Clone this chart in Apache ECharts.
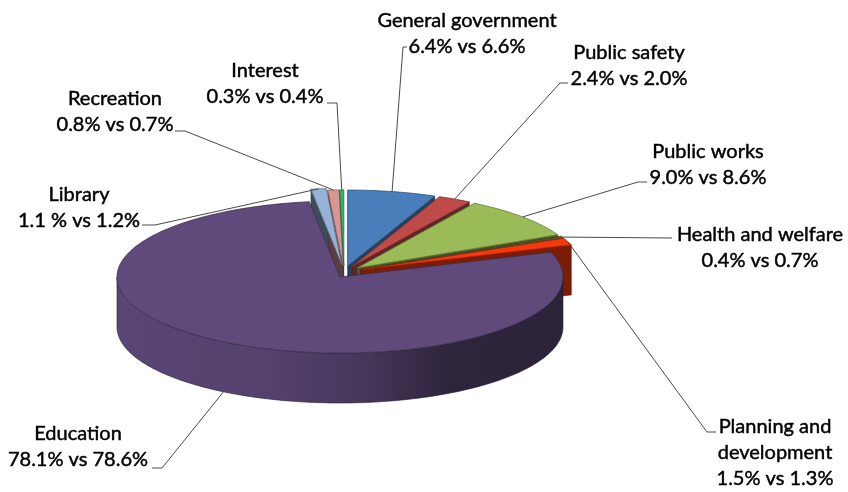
<!DOCTYPE html>
<html><head><meta charset="utf-8">
<script src="https://cdn.jsdelivr.net/npm/echarts@6/dist/echarts.min.js"></script>
<style>html,body{margin:0;padding:0;background:#fff}#c{width:848px;height:492px}</style>
</head><body><div id="c"></div>
<script>
// ---- data ----
const categories = ['General government','Public safety','Public works','Health and welfare','Planning and development','Education','Library','Recreation','Interest'];
const labelNames = ['General government','Public safety','Public works','Health and welfare','Planning and\ndevelopment','Education','Library','Recreation','Interest'];
const shareA = [6.4, 2.4, 9.0, 0.4, 1.5, 78.1, 1.1, 0.8, 0.3];
const shareB = [6.6, 2.0, 8.6, 0.7, 1.3, 78.6, 1.2, 0.7, 0.4];
const shareAText = ['6.4%','2.4%','9.0%','0.4%','1.5%','78.1%','1.1 %','0.8%','0.3%'];

// ---- style ----
const colors = ['#4A7EBB','#BE4B48','#9BBB59','#4F6228','#F5380E','#5F4A7B','#95B3D7','#D99694','#34AE6E'];
const explode = [0.08,0.08,0.08,0.08,0.08,0,0.1,0.08,0.08];
const CX = 340, CY = 277, RX = 223, RY = 76, DEPTH = 50, SHIFT = [4,-5];
// label layout: [blockCenterX, blockCenterY, elbowX, elbowY, endX]
const labelLayout = [
  [467, 34, 403, 47, 407],
  [629, 66, 560, 83, 568],
  [708, 165, 638, 182, 647],
  [760, 248, 672, 238, 672],
  [775, 453, 707, 432, 716],
  [78, 447, 162, 468, 152],
  [79, 208, 155, 225, 142],
  [115, 112, 185, 131, 175],
  [265, 84, 337, 103, 327]
];

function shade(hex, f){
  const n = parseInt(hex.slice(1),16);
  const r = Math.round(((n>>16)&255)*f), g = Math.round(((n>>8)&255)*f), b = Math.round((n&255)*f);
  return 'rgb('+r+','+g+','+b+')';
}

const total = shareA.reduce((a,b)=>a+b,0);
const startA = [], endA = [];
let acc = 0;
shareA.forEach(v=>{ startA.push(acc/total*2*Math.PI); acc += v; endA.push(acc/total*2*Math.PI); });

function renderItem(params, api){
  const i = params.dataIndex;
  const s = startA[i], e = endA[i], m = (s+e)/2;
  const ex = explode[i];
  const off = ex>0 ? [ex*RX*Math.sin(m)+SHIFT[0], -ex*RY*Math.cos(m)+SHIFT[1]] : [0,0];
  const P = (t,r,h)=>[CX+off[0]+RX*r*Math.sin(t), CY+off[1]-RY*r*Math.cos(t)+h];
  const arc = (a,b,h)=>{ const n=Math.max(2,Math.ceil((b-a)/(Math.PI/180))); const pts=[]; for(let k=0;k<=n;k++) pts.push(P(a+(b-a)*k/n,1,h)); return pts; };
  const base = colors[i];
  const children = [];
  // outer wall (front half only)
  const a = Math.max(s, Math.PI/2), b = Math.min(e, 3*Math.PI/2);
  if (a < b){
    const pts = arc(a,b,0).concat(arc(a,b,DEPTH).reverse());
    const fill = new echarts.graphic.LinearGradient(0,0,1,0,[
      {offset:0, color: shade(base,0.95)},
      {offset:0.35, color: shade(base,0.88)},
      {offset:0.55, color: shade(base,0.74)},
      {offset:0.75, color: shade(base,0.48)},
      {offset:1, color: shade(base,0.46)}
    ]);
    children.push({type:'polygon', shape:{points:pts}, style:{fill:fill, stroke:shade(base,0.35), lineWidth:0.6}, z2: 10+Math.max(...pts.map(p=>p[1]))});
  }
  // trailing cut face
  if (Math.sin(e) > 1e-6 && ex > 0){
    const pts=[P(0,0,0),P(e,1,0),P(e,1,DEPTH),P(0,0,DEPTH)];
    children.push({type:'polygon', shape:{points:pts}, style:{fill:shade(base,0.5), stroke:shade(base,0.35), lineWidth:0.5}, z2: 10+Math.max(...pts.map(p=>p[1]))});
  }
  // leading cut face
  if (Math.sin(s) < -1e-6 && ex > 0){
    const pts=[P(0,0,0),P(s,1,0),P(s,1,DEPTH),P(0,0,DEPTH)];
    children.push({type:'polygon', shape:{points:pts}, style:{fill:shade(base,0.42), stroke:shade(base,0.3), lineWidth:0.5}, z2: 10+Math.max(...pts.map(p=>p[1]))});
  }
  // top face
  const top = [P(0,0,0)].concat(arc(s,e,0));
  children.push({type:'polygon', shape:{points:top}, style:{fill:base, stroke:shade(base,0.65), lineWidth:0.8}, z2: 1000});
  // leader line + label
  const L = labelLayout[i];
  const anchor = Math.cos(m) < 0 ? P(m,1,DEPTH) : P(m,1,0);
  children.push({type:'polyline', shape:{points:[anchor,[L[2],L[3]],[L[4],L[3]]]}, style:{stroke:'#4a4a4a', lineWidth:1, fill:null}, z2: 1500});
  children.push({type:'text', x:L[0], y:L[1], style:{
    text: labelNames[i] + '\n' + shareAText[i] + ' vs ' + shareB[i].toFixed(1) + '%',
    align:'center', verticalAlign:'middle', fontFamily:'Lato', fontSize:20, lineHeight:26,
    fill:'#000', stroke:'#000', lineWidth:0.45
  }, z2: 2000});
  return {type:'group', children: children};
}

const chart = echarts.init(document.getElementById('c'), null, {renderer:'canvas'});
chart.setOption({
  animation:false,
  backgroundColor:'#fff',
  series:[{
    type:'custom',
    coordinateSystem:'none',
    renderItem: renderItem,
    data: shareA.map((v,i)=>({name:categories[i], value:[v]}))
  }]
});
</script></body></html>
